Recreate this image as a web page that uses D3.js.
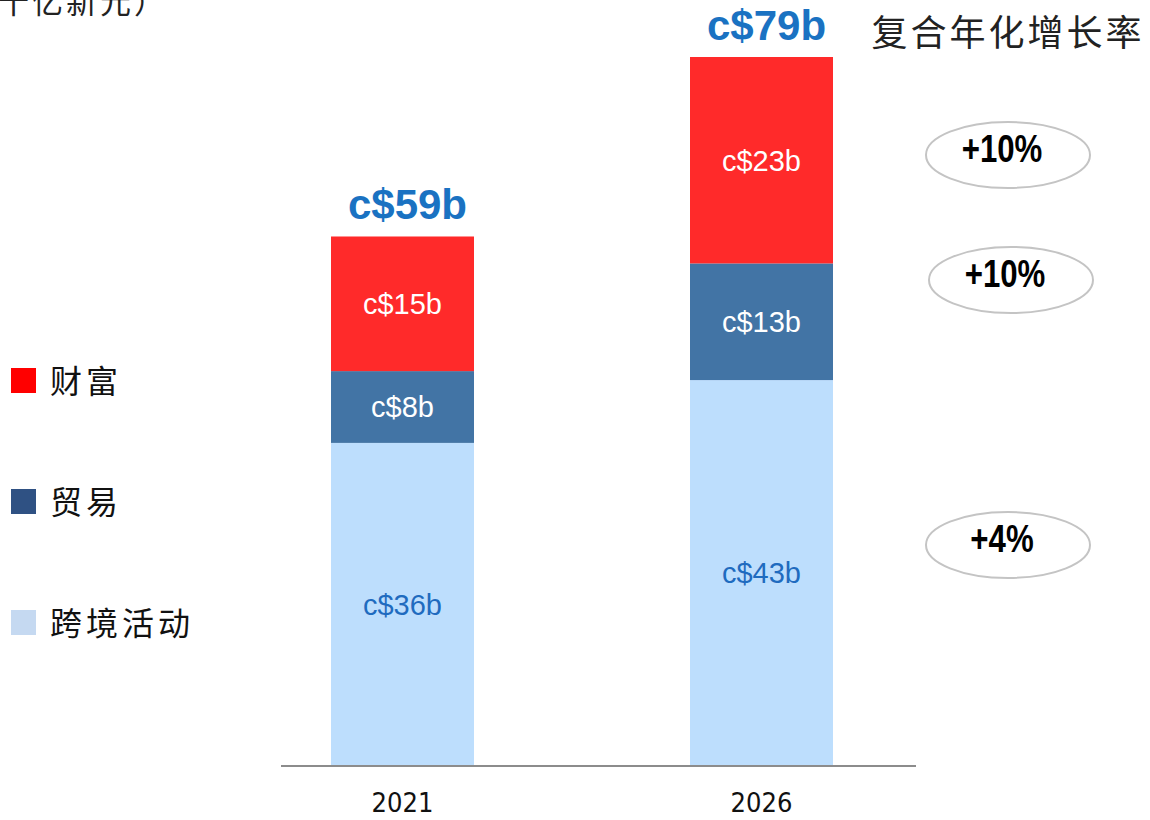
<!DOCTYPE html>
<html>
<head>
<meta charset="utf-8">
<script src="https://cdn.jsdelivr.net/npm/d3@7"></script>
<style>
  body { margin: 0; background: #fff; }
  svg { display: block; }
</style>
</head>
<body>
<div id="viz"></div>
<script>
// data
var years = ['2021', '2026'];
var seriesKeys = ['cross', 'trade', 'wealth'];
var seriesNames = ['跨境活动', '贸易', '财富'];
var crossBorder = [36, 43];
var trade = [8, 13];
var wealth = [15, 23];
var totals = [59, 79];
var cagrLabels = ['+10%', '+10%', '+4%']; // wealth, trade, cross-border

var width = 1150;
var height = 820;

var barColor = { cross: '#bddefd', trade: '#4274a5', wealth: '#ff2a2a' };
var legendColor = { cross: '#c5d9f1', trade: '#2f5183', wealth: '#ff0000' };
var labelColor = { cross: '#1f6bbf', trade: '#ffffff', wealth: '#ffffff' };

var cjk = '"Noto Sans CJK SC", "Noto Sans", sans-serif';

var rows = years.map(function (y, i) {
  return { year: y, cross: crossBorder[i], trade: trade[i], wealth: wealth[i], total: totals[i] };
});

var svg = d3.select('#viz').append('svg')
  .attr('width', width)
  .attr('height', height);

var x = d3.scaleBand()
  .domain(years)
  .range([331, 833])
  .paddingInner(0.6017)
  .paddingOuter(0);

var y = d3.scaleLinear()
  .domain([0, 79])
  .range([766, 57]);

var stack = d3.stack().keys(seriesKeys);
var layers = stack(rows);

// bars
var layer = svg.selectAll('.layer')
  .data(layers)
  .enter().append('g')
  .attr('class', 'layer')
  .attr('fill', function (d) { return barColor[d.key]; });

layer.selectAll('rect')
  .data(function (d) { return d; })
  .enter().append('rect')
  .attr('x', function (d) { return x(d.data.year); })
  .attr('y', function (d) { return y(d[1]); })
  .attr('height', function (d) { return y(d[0]) - y(d[1]); })
  .attr('width', x.bandwidth());

// segment labels
layers.forEach(function (l) {
  svg.selectAll('.seg-' + l.key)
    .data(l)
    .enter().append('text')
    .attr('x', function (d) { return x(d.data.year) + x.bandwidth() / 2; })
    .attr('y', function (d) { return (y(d[0]) + y(d[1])) / 2; })
    .attr('dy', '0.36em')
    .attr('text-anchor', 'middle')
    .attr('font-family', 'Arial, "Liberation Sans", sans-serif')
    .attr('font-size', 29)
    .attr('fill', labelColor[l.key])
    .text(function (d) { return 'c$' + d.data[l.key] + 'b'; });
});

// totals
svg.selectAll('.total')
  .data(rows)
  .enter().append('text')
  .attr('x', function (d) { return x(d.year) + x.bandwidth() / 2 + 5; })
  .attr('y', function (d) { return y(d.total) - 17; })
  .attr('text-anchor', 'middle')
  .attr('font-family', 'Arial, "Liberation Sans", sans-serif')
  .attr('font-weight', 'bold')
  .attr('font-size', 42)
  .attr('fill', '#1a72c2')
  .text(function (d) { return 'c$' + d.total + 'b'; });

// x axis
var xAxis = svg.append('g')
  .attr('transform', 'translate(0,' + y(0) + ')')
  .call(d3.axisBottom(x).tickSize(0).tickPadding(27));

xAxis.select('.domain').remove();
xAxis.append('line')
  .attr('x1', 281).attr('x2', 916)
  .attr('stroke', '#8c8c8c')
  .attr('stroke-width', 2);

xAxis.selectAll('.tick text')
  .attr('font-family', '"DejaVu Sans Condensed", "DejaVu Sans", sans-serif')
  .attr('font-size', 27)
  .attr('fill', '#111');

// unit caption, cut off at the left edge as in the source
svg.append('text')
  .attr('x', -36)
  .attr('y', 13)
  .attr('font-family', cjk)
  .attr('font-size', 31)
  .attr('letter-spacing', 3)
  .attr('fill', '#222')
  .text('（十亿新元）');

// legend
var legendY = { wealth: 368, trade: 489, cross: 610 };
var legend = svg.selectAll('.legend')
  .data(seriesKeys)
  .enter().append('g')
  .attr('class', 'legend')
  .attr('transform', function (k) { return 'translate(11,' + legendY[k] + ')'; });

legend.append('rect')
  .attr('width', 25)
  .attr('height', 25)
  .attr('fill', function (k) { return legendColor[k]; });

legend.append('text')
  .attr('x', 39)
  .attr('y', 13)
  .attr('dy', '0.36em')
  .attr('font-family', cjk)
  .attr('font-size', 32)
  .attr('letter-spacing', 4)
  .attr('fill', '#111')
  .text(function (k) { return seriesNames[seriesKeys.indexOf(k)]; });

// CAGR column
svg.append('text')
  .attr('x', 1008)
  .attr('y', 46)
  .attr('text-anchor', 'middle')
  .attr('font-family', cjk)
  .attr('font-size', 36)
  .attr('letter-spacing', 3)
  .attr('fill', '#222')
  .text('复合年化增长率');

var ellipses = [
  { label: cagrLabels[0], cx: 1008, cy: 155 },
  { label: cagrLabels[1], cx: 1011, cy: 280 },
  { label: cagrLabels[2], cx: 1008, cy: 545 }
];

var badge = svg.selectAll('.cagr')
  .data(ellipses)
  .enter().append('g')
  .attr('class', 'cagr')
  .attr('transform', function (d) { return 'translate(' + d.cx + ',' + d.cy + ')'; });

badge.append('ellipse')
  .attr('rx', 82)
  .attr('ry', 33)
  .attr('fill', '#fff')
  .attr('stroke', '#c4c4c4')
  .attr('stroke-width', 2);

// narrow, tall figures: condensed horizontally
badge.append('text')
  .attr('transform', 'translate(-6,-7) scale(0.8,1)')
  .attr('dy', '0.36em')
  .attr('text-anchor', 'middle')
  .attr('font-family', 'Arial, "Liberation Sans", sans-serif')
  .attr('font-weight', 'bold')
  .attr('font-size', 39)
  .attr('fill', '#000')
  .text(function (d) { return d.label; });
</script>
</body>
</html>
